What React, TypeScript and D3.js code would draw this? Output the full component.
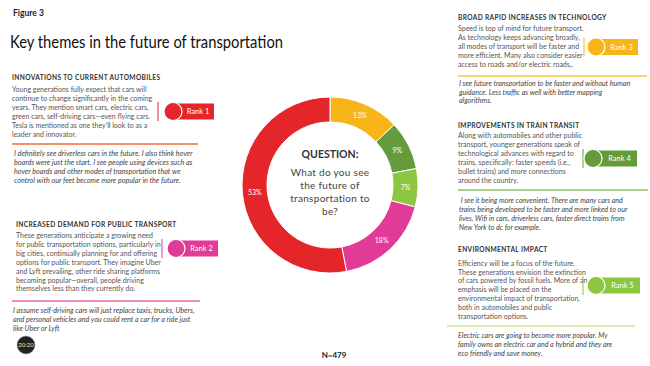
import React from "react";
import * as d3 from "d3";

// ---- data ----
const ranks = [1, 2, 3, 4, 5];
const shares = [53, 18, 13, 9, 7];
const ringOrder = [3, 4, 5, 2, 1]; // clockwise from 12 o'clock
const rankColors = ["#e4262b", "#e03b97", "#f8b51a", "#649c3c", "#8dc63f"];
const ruleColors = ["#f26b3a", "#ec6aa6", "#fbc53e", "#8cc26a", "#d3e38f"];

const themeTitles = [
  "INNOVATIONS TO CURRENT AUTOMOBILES",
  "INCREASED DEMAND FOR PUBLIC TRANSPORT",
  "BROAD RAPID INCREASES IN TECHNOLOGY",
  "IMPROVEMENTS IN TRAIN TRANSIT",
  "ENVIRONMENTAL IMPACT",
];

const themeBodies = [
  [
    "Young generations fully expect that cars will",
    "continue to change significantly in the coming",
    "years. They mention smart cars, electric cars,",
    "green cars, self-driving cars\u2014even flying cars.",
    "Tesla is mentioned as one they\u2019ll look to as a",
    "leader and innovator.",
  ],
  [
    "These generations anticipate a growing need",
    "for public transportation options, particularly in",
    "big cities, continually planning for and offering",
    "options for public transport. They imagine Uber",
    "and Lyft prevailing, other ride sharing platforms",
    "becoming popular\u2014overall, people driving",
    "themselves less than they currently do.",
  ],
  [
    "Speed is top of mind for future transport.",
    "As technology keeps advancing broadly,",
    "all modes of transport will be faster and",
    "more efficient. Many also consider easier",
    "access to roads and/or electric roads,.",
  ],
  [
    "Along with automobiles and other public",
    "transport, younger generations speak of",
    "technological advances with regard to",
    "trains, specifically: faster speeds (i.e.,",
    "bullet trains) and more connections",
    "around the country.",
  ],
  [
    "Efficiency will be a focus of the future.",
    "These generations envision the extinction",
    "of cars powered by fossil fuels. More of an",
    "emphasis will be placed on the",
    "environmental impact of transportation,",
    "both in automobiles and public",
    "transportation options.",
  ],
];

const themeQuotes = [
  [
    "I definitely see driverless cars in the future. I also think hover",
    "boards were just the start. I see people using devices such as",
    "hover boards and other modes of transportation that we",
    "control with our feet become more popular in the future.",
  ],
  [
    "I assume self-driving cars will just replace taxis, trucks, Ubers,",
    "and personal vehicles and you could rent a car for a ride just",
    "like Uber or Lyft",
  ],
  [
    "I see future transportation to be faster and without human",
    "guidance. Less traffic as well with better mapping",
    "algorithms.",
  ],
  [
    " I see it being more convenient. There are many cars and",
    "trains being developed to be faster and more linked to our",
    "lives. Wifi in cars, driverless cars, faster direct trains from",
    "New York to dc for example.",
  ],
  [
    "Electric cars are going to become more popular. My",
    "family owns an electric car and a hybrid and they are",
    "eco friendly and save money.",
  ],
];

const questionLines = ["What do you see", "the future of", "transportation to", "be?"];
const sampleLabel = "N=479";

// ---- layout ----
const W = 650;
const H = 366;
const FONT = "Lato, 'Open Sans', sans-serif";
const LH = 8.9;

const layout = [
  { x: 12, hy: 79.5, by: 92.3, ry: 144, rx0: 12, rx1: 198, qx: 14, qy: 156.3, qs: 7.2, vx: 158, cx: 173, cy: 111.5, bx1: 214 },
  { x: 16, hy: 226.5, by: 238, ry: 301, rx0: 12, rx1: 200, qx: 13, qy: 313.3, qs: 7.2, vx: 162, cx: 176, cy: 248.5, bx1: 218 },
  { x: 458, hy: 19.5, by: 31.3, ry: 76, rx0: 458, rx1: 647, qx: 459, qy: 85.6, qs: 7.1, vx: 584, cx: 596, cy: 47, bx1: 638 },
  { x: 458, hy: 127.5, by: 138.3, ry: 190, rx0: 458, rx1: 648, qx: 459, qy: 203.3, qs: 7.1, vx: 583, cx: 593, cy: 158.5, bx1: 637 },
  { x: 458, hy: 251.5, by: 265.6, ry: 326, rx0: 447, rx1: 635, qx: 458, qy: 338.3, qs: 7.1, vx: 583, cx: 596, cy: 285.5, bx1: 640 },
];

const CX = 330;
const CY = 185;
const R_OUT = 88;
const R_IN = 63;

function Badge({ i }: { i: number }) {
  const l = layout[i];
  const r = 9;
  return (
    <g>
      <line x1={l.vx} x2={l.vx} y1={l.cy - 9.5} y2={l.cy + 9.5} stroke={rankColors[i]} strokeWidth={1} />
      <rect x={l.cx} y={l.cy - 8} width={l.bx1 - l.cx} height={16} fill={rankColors[i]} />
      <circle cx={l.cx} cy={l.cy} r={r} fill={rankColors[i]} stroke="#fff" strokeWidth={1.2} />
      <text
        x={(l.cx + r + l.bx1) / 2}
        y={l.cy + 2.6}
        textAnchor="middle"
        fontSize={7.5}
        fill="#fff"
      >
        {`Rank ${ranks[i]}`}
      </text>
    </g>
  );
}

function Theme({ i }: { i: number }) {
  const l = layout[i];
  return (
    <g fontFamily={FONT}>
      <text x={l.x} y={l.hy} fontSize={6.6} fontWeight={700} fill="#333" letterSpacing={0.35}>
        {themeTitles[i]}
      </text>
      {themeBodies[i].map((s, k) => (
        <text key={k} x={l.x} y={l.by + k * LH} fontSize={7} fill="#555" xmlSpace="preserve">
          {s}
        </text>
      ))}
      <line x1={l.rx0} x2={l.rx1} y1={l.ry} y2={l.ry} stroke={ruleColors[i]} strokeWidth={1.3} />
      {themeQuotes[i].map((s, k) => (
        <text
          key={k}
          x={l.qx}
          y={l.qy + k * LH}
          fontSize={l.qs}
          fontStyle="italic"
          fill="#444"
          xmlSpace="preserve"
        >
          {s}
        </text>
      ))}
      <Badge i={i} />
    </g>
  );
}

export default function App() {
  const ringData = ringOrder.map((rk) => ({ rank: rk, value: shares[rk - 1] }));
  const pie = d3
    .pie<{ rank: number; value: number }>()
    .sort(null)
    .value((d) => d.value);
  const arcs = pie(ringData);
  const arc = d3
    .arc<d3.PieArcDatum<{ rank: number; value: number }>>()
    .innerRadius(R_IN)
    .outerRadius(R_OUT);
  const labelArc = d3
    .arc<d3.PieArcDatum<{ rank: number; value: number }>>()
    .innerRadius((R_IN + R_OUT) / 2)
    .outerRadius((R_IN + R_OUT) / 2);

  return (
    <svg
      width={W}
      height={H}
      style={{ position: "absolute", left: 0, top: 0, background: "#fff" }}
      fontFamily={FONT}
    >
      <rect width={W} height={H} fill="#fff" />
      <text x={13} y={15.5} fontSize={8.5} fontWeight={700} fill="#222">
        Figure 3
      </text>
      <text x={10} y={47.5} fontSize={16.5} fill="#111" textLength={273} lengthAdjust="spacingAndGlyphs">
        Key themes in the future of transportation
      </text>

      {ranks.map((_, i) => (
        <Theme key={i} i={i} />
      ))}

      <g transform={`translate(${CX},${CY})`}>
        {arcs.map((a) => (
          <path key={a.data.rank} d={arc(a) || ""} fill={rankColors[a.data.rank - 1]} stroke="#fff" strokeWidth={1} />
        ))}
        {arcs.map((a) => {
          const [lx, ly] = labelArc.centroid(a);
          return (
            <text key={a.data.rank} x={lx} y={ly + 2.5} textAnchor="middle" fontSize={7} fill="#fff">
              {`${a.data.value}%`}
            </text>
          );
        })}
        <text x={0} y={-27} textAnchor="middle" fontSize={10.5} fontWeight={700} fill="#333">
          QUESTION:
        </text>
        {questionLines.map((s, k) => (
          <text key={k} x={0} y={-9 + k * 13} textAnchor="middle" fontSize={10} fill="#444" letterSpacing={0.3}>
            {s}
          </text>
        ))}
      </g>

      <text x={334} y={358} textAnchor="middle" fontSize={8} fontWeight={700} fill="#222">
        {sampleLabel}
      </text>

      <circle cx={26} cy={345} r={9} fill="#222" stroke="#999" strokeWidth={0.6} />
      <text x={26} y={347.2} textAnchor="middle" fontSize={6} fill="#e8e3a0">
        20:20
      </text>
    </svg>
  );
}
